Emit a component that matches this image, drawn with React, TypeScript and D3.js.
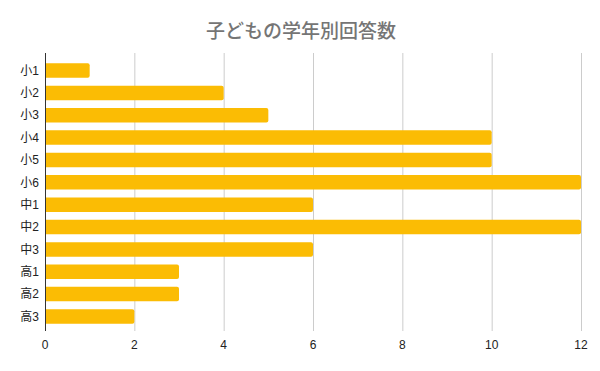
import { useEffect, useRef } from "react";
import * as d3 from "d3";

const grades = ["小1", "小2", "小3", "小4", "小5", "小6", "中1", "中2", "中3", "高1", "高2", "高3"];
const counts = [1, 4, 5, 10, 10, 12, 6, 12, 6, 3, 3, 2];
const xTicks = [0, 2, 4, 6, 8, 10, 12];
const title = "子どもの学年別回答数";

const App = () => {
  const svgRef = useRef<SVGSVGElement>(null);

  useEffect(() => {
    const width = 600;
    const height = 371;
    const left = 45;
    const right = 581;
    const top = 53;
    const bottom = 331;
    const font = "'Liberation Sans', Arial, 'Noto Sans CJK JP', sans-serif";

    const svg = d3.select(svgRef.current).attr("width", width).attr("height", height);
    svg.selectAll("*").remove();

    // scales
    const xScale = d3.scaleLinear().domain([0, 12]).range([left, right]);
    const yScale = d3
      .scaleBand()
      .domain(grades)
      .range([top + 2, bottom + 1])
      .paddingInner(0.35)
      .paddingOuter(0.37);

    // title
    svg
      .append("text")
      .attr("x", 301)
      .attr("y", 38)
      .attr("text-anchor", "middle")
      .attr("font-family", "'Noto Sans CJK JP', sans-serif")
      .attr("font-size", 19)
      .attr("font-weight", 500)
      .attr("fill", "#757575")
      .text(title);

    // grid
    svg
      .append("g")
      .selectAll("line")
      .data(xTicks.filter((t) => t > 0))
      .join("line")
      .attr("x1", (d) => xScale(d) + 0.5)
      .attr("x2", (d) => xScale(d) + 0.5)
      .attr("y1", top)
      .attr("y2", bottom)
      .attr("stroke", "#cccccc")
      .attr("stroke-width", 1);

    // bars
    svg
      .append("g")
      .selectAll("path")
      .data(counts)
      .join("path")
      .attr("d", (d, i) => {
        const x0 = xScale(0);
        const x1 = xScale(d);
        const y0 = yScale(grades[i])!;
        const h = yScale.bandwidth();
        const r = 2;
        return `M${x0},${y0}H${x1 - r}Q${x1},${y0} ${x1},${y0 + r}V${y0 + h - r}Q${x1},${y0 + h} ${x1 - r},${y0 + h}H${x0}Z`;
      })
      .attr("fill", "#fbbc04");

    // y axis line
    svg
      .append("line")
      .attr("x1", xScale(0) + 0.5)
      .attr("x2", xScale(0) + 0.5)
      .attr("y1", top)
      .attr("y2", bottom)
      .attr("stroke", "#333333");

    // y labels
    svg
      .append("g")
      .selectAll("text")
      .data(grades)
      .join("text")
      .attr("x", 39)
      .attr("y", (d) => yScale(d)! + yScale.bandwidth() / 2)
      .attr("dy", "0.35em")
      .attr("text-anchor", "end")
      .attr("font-family", font)
      .attr("font-size", 12)
      .attr("fill", "#222222")
      .text((d) => d);

    // x labels
    svg
      .append("g")
      .selectAll("text")
      .data(xTicks)
      .join("text")
      .attr("x", (d) => xScale(d))
      .attr("y", 349)
      .attr("text-anchor", "middle")
      .attr("font-family", font)
      .attr("font-size", 12)
      .attr("fill", "#222222")
      .text((d) => d);
  }, []);

  return (
    <div style={{ position: "absolute", left: 0, top: 0 }}>
      <svg ref={svgRef} style={{ display: "block", background: "#fff" }}></svg>
    </div>
  );
};

export default App;
